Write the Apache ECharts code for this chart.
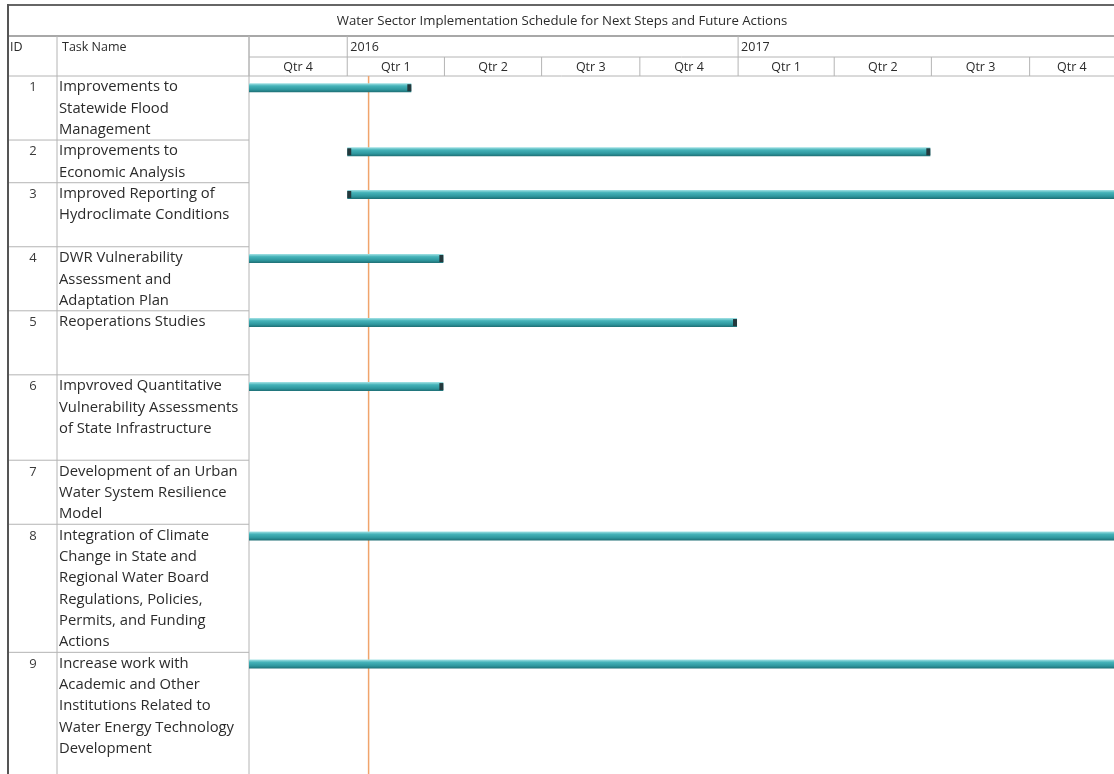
<!DOCTYPE html>
<html>
<head>
<meta charset="utf-8">
<title>Water Sector Implementation Schedule</title>
<script src="https://cdn.jsdelivr.net/npm/echarts@6/dist/echarts.min.js"></script>
<style>
  html, body { margin: 0; padding: 0; background: #fff; }
  #chart { width: 1114px; height: 774px; }
</style>
</head>
<body>
<div id="chart"></div>
<script>
// --- data ---
const title = 'Water Sector Implementation Schedule for Next Steps and Future Actions'
const taskIds = [1, 2, 3, 4, 5, 6, 7, 8, 9]
const taskNames = [
  'Improvements to\nStatewide Flood\nManagement',
  'Improvements to\nEconomic Analysis',
  'Improved Reporting of\nHydroclimate Conditions',
  'DWR Vulnerability\nAssessment and\nAdaptation Plan',
  'Reoperations Studies',
  'Impvroved Quantitative\nVulnerability Assessments\nof State Infrastructure',
  'Development of an Urban\nWater System Resilience\nModel',
  'Integration of Climate\nChange in State and\nRegional Water Board\nRegulations, Policies,\nPermits, and Funding\nActions',
  'Increase work with\nAcademic and Other\nInstitutions Related to\nWater Energy Technology\nDevelopment'
]
// bars that run off either edge get a date beyond the visible range
const taskStart = ['2015-07-01', '2016-01-01', '2016-01-01', '2015-07-01', '2015-07-01', '2015-07-01', null, '2015-07-01', '2015-07-01']
const taskEnd = ['2016-03-01', '2017-06-30', '2018-06-30', '2016-03-31', '2016-12-31', '2016-03-31', null, '2018-06-30', '2018-06-30']
const quarterStarts = ['2015-10-01', '2016-01-01', '2016-04-01', '2016-07-01', '2016-10-01', '2017-01-01', '2017-04-01', '2017-07-01', '2017-10-01', '2018-01-01']
const quarterLabels = ['Qtr 4', 'Qtr 1', 'Qtr 2', 'Qtr 3', 'Qtr 4', 'Qtr 1', 'Qtr 2', 'Qtr 3', 'Qtr 4']
const yearStarts = ['2015-10-01', '2016-01-01', '2017-01-01', '2018-01-01']
const yearLabels = ['', '2016', '2017']
const statusDate = '2016-01-21'

// --- layout ---
const rowLines = [3, 2, 3, 3, 3, 4, 3, 6, 6]   // row height in text lines
const LH = 21.35
const xMin = '2015-10-01', xMax = '2017-12-19'
const G = { left: 249, top: 76 }
const FONT = '"Open Sans", "DejaVu Sans", sans-serif'
const LINE = '#b4b4b4'
const TXT = '#2b2b2b'

const rowTop = []
rowLines.reduce((acc, n, i) => { rowTop[i] = acc; return acc + n }, 0)

const taskData = taskIds.map((id, i) => [i, taskStart[i] ? +new Date(taskStart[i]) : NaN, taskEnd[i] ? +new Date(taskEnd[i]) : NaN, rowTop[i]])
const quarterData = quarterLabels.map((q, i) => [+new Date(quarterStarts[i]), +new Date(quarterStarts[i + 1])])
const yearData = yearLabels.map((y, i) => [+new Date(yearStarts[i]), +new Date(yearStarts[i + 1])])

const barFill = new echarts.graphic.LinearGradient(0, 0, 0, 1, [
  { offset: 0, color: '#a6e3e6' }, { offset: 0.3, color: '#45b3b9' },
  { offset: 0.7, color: '#2e979e' }, { offset: 1, color: '#1e6e74' }
])

function renderTask(params, api) {
  const i = params.dataIndex
  const cs = params.coordSys
  const right = cs.x + cs.width
  const topPx = api.coord([+new Date(xMin), api.value(3)])[1]
  const children = []
  // row separators in table part (first row sits on header line)
  if (i > 0) {
    children.push({ type: 'line', shape: { x1: 9, y1: topPx, x2: G.left, y2: topPx }, style: { stroke: LINE, lineWidth: 1 } })
  }
  children.push({ type: 'text', style: { text: String(taskIds[i]), x: 33, y: topPx + 1, align: 'center', verticalAlign: 'top', font: '13px ' + FONT, fill: '#3a3a3a', lineHeight: LH } })
  children.push({ type: 'text', style: { text: taskNames[i], x: 59, y: topPx + 0.5, align: 'left', verticalAlign: 'top', font: '14.8px ' + FONT, fill: TXT, lineHeight: LH } })
  const s = api.value(1), e = api.value(2)
  if (!isNaN(s)) {
    const yc = api.coord([s, api.value(3) + 0.55])[1]
    const xs = api.coord([s, 0])[0], xe = api.coord([e, 0])[0]
    const x0 = Math.max(xs, cs.x), x1 = Math.min(xe, right)
    const h = 9
    children.push({ type: 'rect', shape: { x: x0, y: yc - h / 2, width: x1 - x0, height: h }, style: { fill: barFill } })
    if (xs >= cs.x) children.push({ type: 'rect', shape: { x: xs, y: yc - h / 2 + 1, width: 4, height: h - 2 }, style: { fill: '#24383c' } })
    if (xe <= right) children.push({ type: 'rect', shape: { x: xe - 4, y: yc - h / 2 + 1, width: 4, height: h - 2 }, style: { fill: '#24383c' } })
  }
  return { type: 'group', children }
}

function headerCell(labels, y0, y1, center) {
  return function (params, api) {
    const cs = params.coordSys
    const right = cs.x + cs.width
    const x0 = api.coord([api.value(0), 0])[0]
    const x1 = Math.min(api.coord([api.value(1), 0])[0], right)
    const children = [
      { type: 'line', shape: { x1: x0, y1: y0, x2: x0, y2: y1 }, style: { stroke: LINE, lineWidth: 1 } },
      { type: 'text', style: { text: labels[params.dataIndex], x: center ? (x0 + x1) / 2 : x0 + 3, y: (y0 + y1) / 2 + 1, align: center ? 'center' : 'left', verticalAlign: 'middle', font: '12.5px ' + FONT, fill: TXT } }
    ]
    return { type: 'group', children }
  }
}

const chart = echarts.init(document.getElementById('chart'), null, { renderer: 'canvas' })
chart.setOption({
  animation: false,
  backgroundColor: '#fff',
  grid: { left: G.left, right: 0, top: G.top, bottom: 0 },
  xAxis: { type: 'time', min: xMin, max: xMax, show: false, splitLine: { show: false } },
  yAxis: { type: 'value', inverse: true, min: 0, max: 32.7, show: false },
  graphic: [
    { type: 'line', shape: { x1: 8, y1: 5, x2: 1114, y2: 5 }, style: { stroke: '#666', lineWidth: 2 } },
    { type: 'line', shape: { x1: 8, y1: 4, x2: 8, y2: 774 }, style: { stroke: '#555', lineWidth: 2 } },
    { type: 'line', shape: { x1: 9, y1: 36, x2: 1114, y2: 36 }, style: { stroke: '#a8a8a8', lineWidth: 2 } },
    { type: 'line', shape: { x1: G.left, y1: 57, x2: 1114, y2: 57 }, style: { stroke: LINE, lineWidth: 1 } },
    { type: 'line', shape: { x1: 9, y1: 76, x2: 1114, y2: 76 }, style: { stroke: LINE, lineWidth: 1 } },
    { type: 'line', shape: { x1: 57, y1: 36, x2: 57, y2: 774 }, style: { stroke: LINE, lineWidth: 1 } },
    { type: 'line', shape: { x1: G.left, y1: 36, x2: G.left, y2: 774 }, style: { stroke: LINE, lineWidth: 1 } },
    { type: 'text', style: { text: title, x: 562, y: 21, align: 'center', verticalAlign: 'middle', font: '13.2px ' + FONT, fill: TXT } },
    { type: 'text', style: { text: 'ID', x: 10, y: 47, verticalAlign: 'middle', font: '12.5px ' + FONT, fill: TXT } },
    { type: 'text', style: { text: 'Task Name', x: 62, y: 47, verticalAlign: 'middle', font: '12.5px ' + FONT, fill: TXT } }
  ],
  series: [
    { type: 'custom', name: 'years', clip: false, silent: true, data: yearData, encode: { x: [0, 1] }, renderItem: headerCell(yearLabels, 36, 57, false) },
    { type: 'custom', name: 'quarters', clip: false, silent: true, data: quarterData, encode: { x: [0, 1] }, renderItem: headerCell(quarterLabels, 57, 76, true) },
    {
      type: 'custom', name: 'status', clip: false, silent: true, z: 1,
      data: [[+new Date(statusDate)]], encode: { x: 0 },
      renderItem: (params, api) => {
        const x = api.coord([api.value(0), 0])[0]
        const cs = params.coordSys
        return { type: 'line', shape: { x1: x, y1: cs.y, x2: x, y2: cs.y + cs.height }, style: { stroke: '#f0a46c', lineWidth: 1.5 } }
      }
    },
    { type: 'custom', name: 'tasks', clip: false, silent: true, z: 2, data: taskData, encode: { x: [1, 2], y: 3 }, renderItem: renderTask }
  ]
})
</script>
</body>
</html>
